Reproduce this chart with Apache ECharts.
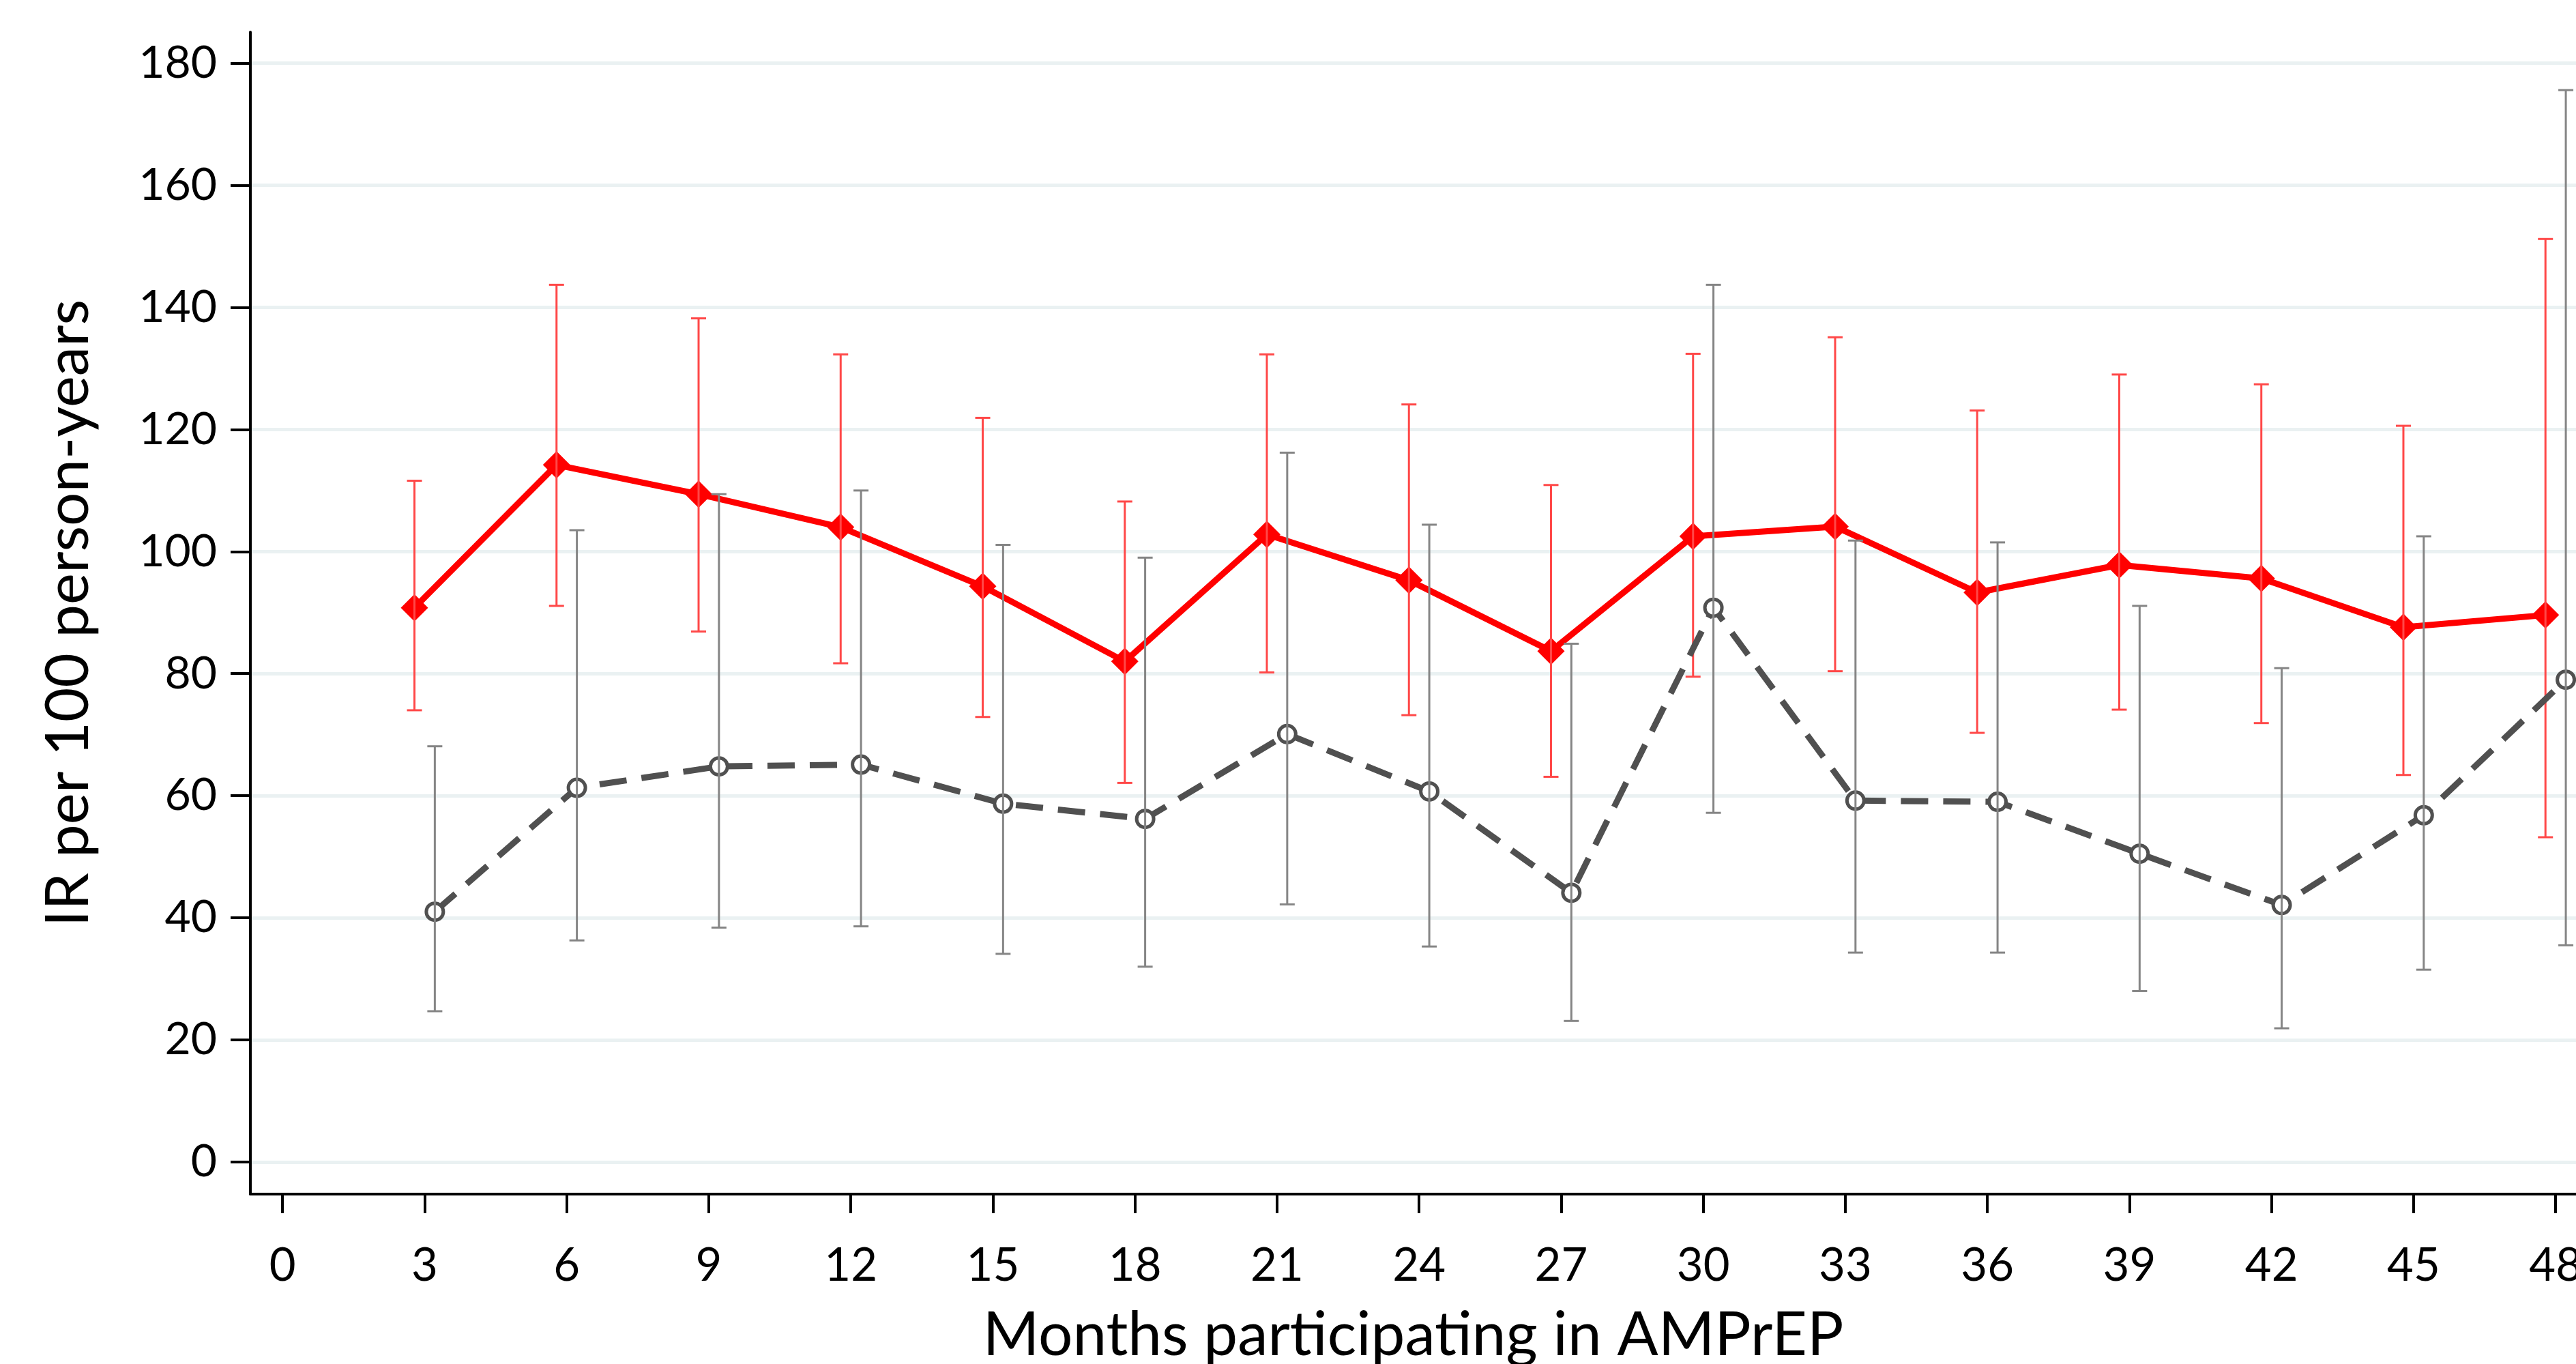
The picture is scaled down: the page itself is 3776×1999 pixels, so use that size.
<!DOCTYPE html>
<html>
<head>
<meta charset="utf-8">
<title>IR per 100 person-years</title>
<script src="https://cdn.jsdelivr.net/npm/echarts@6.0.0/dist/echarts.min.js"></script>
<style>
  html, body { margin: 0; padding: 0; background: #fff; }
  #chart { width: 3776px; height: 1999px; }
</style>
</head>
<body>
<div id="chart"></div>
<script>
// months on the x axis
const months = [3, 6, 9, 12, 15, 18, 21, 24, 27, 30, 33, 36, 39, 42, 45, 48];

// red series (solid, diamonds)
const redIR = [90.8, 114.2, 109.4, 104.0, 94.3, 82.0, 102.8, 95.3, 83.7, 102.5, 104.1, 93.3, 97.8, 95.6, 87.6, 89.6];
const redLow = [74.0, 91.1, 86.9, 81.7, 72.9, 62.1, 80.2, 73.2, 63.1, 79.5, 80.4, 70.3, 74.1, 71.9, 63.4, 53.2];
const redHigh = [111.6, 143.7, 138.2, 132.3, 121.9, 108.2, 132.3, 124.1, 110.9, 132.4, 135.1, 123.1, 129.0, 127.4, 120.6, 151.2];

// grey series (dashed, hollow circles)
const greyIR = [41.0, 61.3, 64.8, 65.1, 58.7, 56.2, 70.1, 60.7, 44.1, 90.8, 59.2, 59.0, 50.5, 42.1, 56.8, 79.0];
const greyLow = [24.7, 36.3, 38.4, 38.6, 34.1, 32.0, 42.2, 35.3, 23.1, 57.2, 34.3, 34.3, 28.0, 21.9, 31.5, 35.5];
const greyHigh = [68.1, 103.5, 109.4, 110.0, 101.1, 99.0, 116.2, 104.4, 84.9, 143.7, 101.8, 101.5, 91.1, 80.9, 102.5, 175.6];

// tick labels
const xTicks = [0, 3, 6, 9, 12, 15, 18, 21, 24, 27, 30, 33, 36, 39, 42, 45, 48];
const yTicks = [0, 20, 40, 60, 80, 100, 120, 140, 160, 180];

// the two groups sit a little left / right of each month
const shift = 0.215;
const FONT = "Lato";

function capBars(color, width) {
  return function (params, api) {
    const x = api.value(0);
    const lo = api.coord([x, api.value(1)]);
    const hi = api.coord([x, api.value(2)]);
    const half = 11;
    const style = { stroke: color, lineWidth: width, fill: null };
    return {
      type: "group",
      children: [
        { type: "line", shape: { x1: hi[0], y1: hi[1], x2: lo[0], y2: lo[1] }, style: style },
        { type: "line", shape: { x1: hi[0] - half, y1: hi[1], x2: hi[0] + half, y2: hi[1] }, style: style },
        { type: "line", shape: { x1: lo[0] - half, y1: lo[1], x2: lo[0] + half, y2: lo[1] }, style: style },
      ],
    };
  };
}

const myChart = echarts.init(document.getElementById("chart"));
myChart.setOption({
  animation: false,
  backgroundColor: "#fff",
  grid: {
    left: 367,
    right: 0,
    top: 47,
    bottom: 249,
    containLabel: false,
    outerBoundsMode: "none",
  },
  xAxis: {
    type: "value",
    min: -0.68,
    max: 48.43,
    name: "Months participating in AMPrEP",
    nameLocation: "middle",
    nameGap: 207,
    nameTextStyle: {
      fontFamily: FONT,
      fontSize: 89,
      color: "#000",
      verticalAlign: "middle",
    },
    axisLine: { show: true, onZero: false, lineStyle: { color: "#000", width: 4 } },
    axisTick: {
      show: true,
      length: 28,
      customValues: xTicks,
      lineStyle: { color: "#000", width: 4 },
    },
    axisLabel: {
      customValues: xTicks,
      fontFamily: FONT,
      fontSize: 67,
      color: "#000",
      margin: 72,
    },
    splitLine: { show: false },
  },
  yAxis: {
    type: "value",
    min: -5.26,
    max: 185.1,
    name: "IR per 100 person-years",
    nameLocation: "middle",
    nameGap: 266,
    nameTextStyle: {
      fontFamily: FONT,
      fontSize: 87,
      color: "#000",
      verticalAlign: "middle",
    },
    axisLine: { show: true, onZero: false, lineStyle: { color: "#000", width: 4 } },
    axisTick: {
      show: true,
      length: 29,
      customValues: yTicks,
      lineStyle: { color: "#000", width: 4 },
    },
    axisLabel: {
      customValues: yTicks,
      fontFamily: FONT,
      fontSize: 66,
      color: "#000",
      margin: 49,
    },
    splitLine: {
      show: true,
      lineStyle: { color: "#eaf1f2", width: 5 },
    },
  },
  series: [
    {
      name: "red",
      type: "line",
      z: 2,
      data: months.map((m, i) => [m - shift, redIR[i]]),
      symbol: "diamond",
      symbolSize: 40,
      itemStyle: { color: "#ff0000" },
      lineStyle: { color: "#ff0000", width: 9 },
    },
    {
      name: "red CI",
      type: "custom",
      z: 3,
      encode: { x: 0, y: [1, 2] },
      renderItem: capBars("#ff4848", 3),
      data: months.map((m, i) => [m - shift, redLow[i], redHigh[i]]),
    },
    {
      name: "grey",
      type: "line",
      z: 4,
      data: months.map((m, i) => [m + shift, greyIR[i]]),
      symbol: "circle",
      symbolSize: 25,
      itemStyle: { color: "#fff", borderColor: "#505050", borderWidth: 5 },
      lineStyle: { color: "#505050", width: 9, type: [40, 22] },
    },
    {
      name: "grey CI",
      type: "custom",
      z: 5,
      encode: { x: 0, y: [1, 2] },
      renderItem: capBars("#858585", 3),
      data: months.map((m, i) => [m + shift, greyLow[i], greyHigh[i]]),
    },
  ],
});
</script>
</body>
</html>
